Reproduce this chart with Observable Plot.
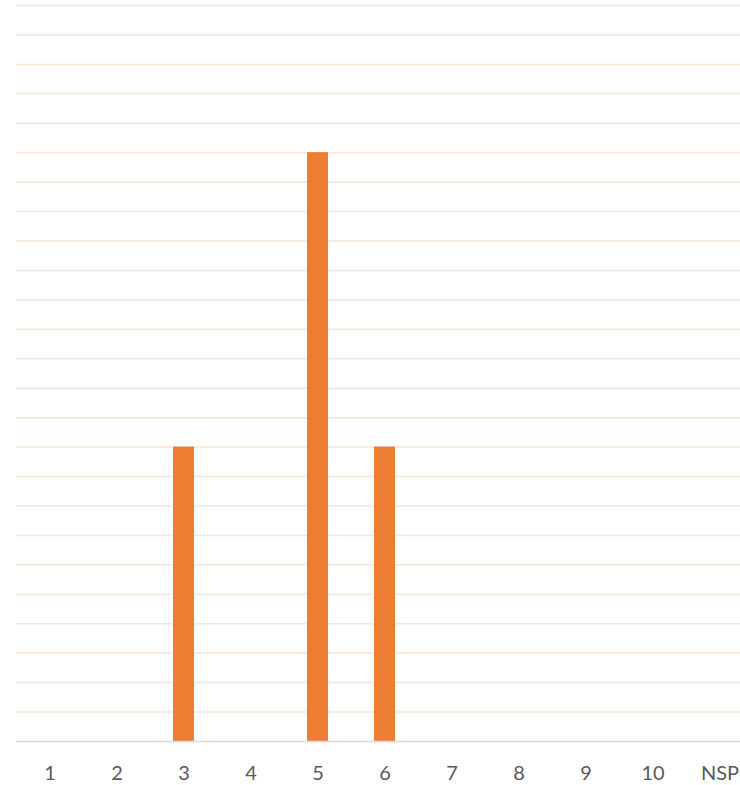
<!DOCTYPE html>
<html><head><meta charset="utf-8">
<script src="https://cdn.jsdelivr.net/npm/d3@7"></script>
<script src="https://cdn.jsdelivr.net/npm/@observablehq/plot@0.6"></script>
<style>body{margin:0;background:#fff}</style>
</head><body><div id="chart"></div>
<script>
const categories = ["1","2","3","4","5","6","7","8","9","10","NSP"];
const values = [0,0,10,0,20,10,0,0,0,0,0];
const gridTicks = d3.range(1, 26);
const data = categories.map((c,i)=>({cat:c, v:values[i]}));
const chart = Plot.plot({
  width: 740, height: 785,
  marginTop: 5, marginBottom: 44, marginLeft: 16, marginRight: 0,
  style: {fontFamily: "Lato, 'Open Sans', sans-serif", fontSize: "20px", color: "#595959", background: "#fff"},
  x: {domain: categories, range: [15.4, 754.6], paddingInner: 0.68, paddingOuter: 0.34, align: 0.5, label: null},
  y: {domain: [0, 25], axis: null},
  marks: [
    Plot.ruleY(gridTicks, {stroke: "#FBE5D6", strokeWidth: 1.5}),
    Plot.barY(data, {x: "cat", y: "v", fill: "#ED7D31"}),
    Plot.ruleY([0], {stroke: "#D9D9D9", strokeWidth: 1.5}),
    Plot.axisX({tickSize: 0, tickPadding: 24, fill: "#595959", fontSize: 20})
  ]
});
document.getElementById("chart").appendChild(chart);
</script></body></html>
